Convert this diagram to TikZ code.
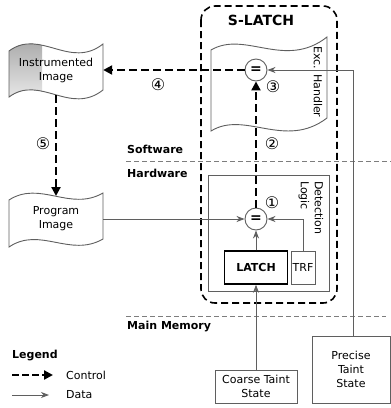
\documentclass[tikz,border=0pt]{standalone}
\usepackage{fontspec}
\setmainfont{DejaVu Sans}
\usetikzlibrary{arrows.meta}
\definecolor{lc}{RGB}{95,95,95}
\definecolor{sec}{RGB}{125,125,125}
\definecolor{shade}{RGB}{140,140,140}
\begin{document}
\begin{tikzpicture}[x=1pt,y=-1pt,
  ctrl/.style={line width=2.2pt, dash pattern=on 8pt off 4pt, -{Triangle[length=9pt,width=9pt]}},
  data/.style={draw=lc, line width=0.9pt, -{Stealth[length=8pt,width=6pt,inset=2.5pt]}},
  eqc/.style={circle, draw=lc, line width=0.9pt, fill=white, minimum size=22pt, inner sep=0pt, font=\fontsize{14}{14}\selectfont\bfseries},
  box/.style={draw=lc, line width=0.9pt, align=center, inner sep=0pt, font=\fontsize{11}{14}\selectfont},
  docline/.style={draw=lc, line width=0.9pt},
  secline/.style={draw=sec, line width=0.8pt, dash pattern=on 5pt off 3pt},
  lbl/.style={font=\fontsize{11}{13}\selectfont\bfseries, anchor=west, inner sep=0pt},
  txt/.style={font=\fontsize{11}{14}\selectfont, align=center, inner sep=0pt},
  num/.style={font=\fontsize{16}{16}\selectfont, inner sep=0pt}]
\useasboundingbox (0,0) rectangle (391,408);

% S-LATCH container
\draw[line width=1.6pt, dash pattern=on 7pt off 4pt, rounded corners=14pt] (201,6) rectangle (337,303);
\node[font=\fontsize{14}{14}\selectfont\bfseries, inner sep=0pt] (slatch) at (261,20) {S-LATCH};

% section separators
\draw[secline] (126,161) -- (391,161);
\draw[secline] (126,316) -- (386,316);
\node[lbl] (sw) at (127,149) {Software};
\node[lbl] (hw) at (127,173) {Hardware};
\node[lbl] (mm) at (127,327) {Main Memory};

% Exception handler document
\draw[docline, fill=white] (211,50) .. controls (245,30) and (285,70) .. (327,37) -- (327,118)
   .. controls (285,150) and (245,110) .. (211,131) -- cycle;
\node[txt, rotate=-90] (exc) at (318,82) {Exc. Handler};

% Detection logic
\node[box, minimum width=121pt, minimum height=116pt] (det) at (268.5,233) {};
\node[txt, rotate=-90, anchor=north west, align=left] (detl) at (323.5,181) {Detection\\Logic};

\node[box, draw=black, line width=1.5pt, minimum width=63pt, minimum height=33pt, font=\fontsize{11}{14}\selectfont\bfseries] (latch) at (256,267.5) {LATCH};
\node[box, minimum width=24pt, minimum height=33pt] (trf) at (303,267.5) {TRF};

% memory boxes
\node[box, minimum width=82pt, minimum height=33pt] (coarse) at (256,386.5) {Coarse Taint\\State};
\node[box, minimum width=78pt, minimum height=67pt] (precise) at (351,369.5) {Precise\\Taint\\State};

% Instrumented image
\begin{scope}
\clip (9,51) .. controls (40,28) and (70,70) .. (103,44) -- (103,90)
   .. controls (70,116) and (40,74) .. (9,97) -- cycle;
\fill[white] (0,0) rectangle (120,120);
\fill[shade] (0,0) rectangle (42,120);
\end{scope}
\draw[docline] (9,51) .. controls (40,28) and (70,70) .. (103,44) -- (103,90)
   .. controls (70,116) and (40,74) .. (9,97) -- cycle;
\node[txt, minimum width=94pt, minimum height=40pt] (instr) at (56,70) {Instrumented\\Image};
\coordinate (instrS) at (56,95);

% Program image
\draw[docline, fill=white] (9,200) .. controls (40,180) and (70,212) .. (103,193) -- (103,239)
   .. controls (70,258) and (40,226) .. (9,247) -- cycle;
\node[txt, minimum width=94pt, minimum height=40pt] (prog) at (56,219) {Program\\Image};
\coordinate (progN) at (56,196);

% comparators
\node[eqc] (eq2) at (256,70) {=};
\node[eqc] (eq1) at (256,219) {=};

% data connectors
\draw[data] (prog.east) -- (eq1.west);
\draw[data] (latch.north) -- (eq1.south);
\draw[data] (trf.north) |- (eq1.east);
\draw[data] (coarse.north) -- (latch.south);
\draw[data] ([xshift=2pt]precise.north) |- (eq2.east);

% control connectors
\draw[ctrl] (eq1.north) -- (eq2.south);
\draw[ctrl] (eq2.west) -- (instr.east);
\draw[ctrl] (instrS) -- (progN);

% step numbers
\node[num] (n1) at (272,203) {①};
\node[num] (n2) at (272,144) {②};
\node[num] (n3) at (273,87) {③};
\node[num] (n4) at (158,85) {④};
\node[num] (n5) at (43,144) {⑤};

% legend
\node[lbl] (leg) at (12,356) {Legend};
\node[txt, anchor=west] (lctrl) at (66,375) {Control};
\node[txt, anchor=west] (ldata) at (66,395) {Data};
\coordinate (lc1) at (12,375);
\coordinate (lc2) at (53,375);
\coordinate (ld1) at (12,395);
\coordinate (ld2) at (49,395);
\draw[ctrl, dash pattern=on 7pt off 3pt] (lc1) -- (lc2);
\draw[data] (ld1) -- (ld2);
\end{tikzpicture}
\end{document}
